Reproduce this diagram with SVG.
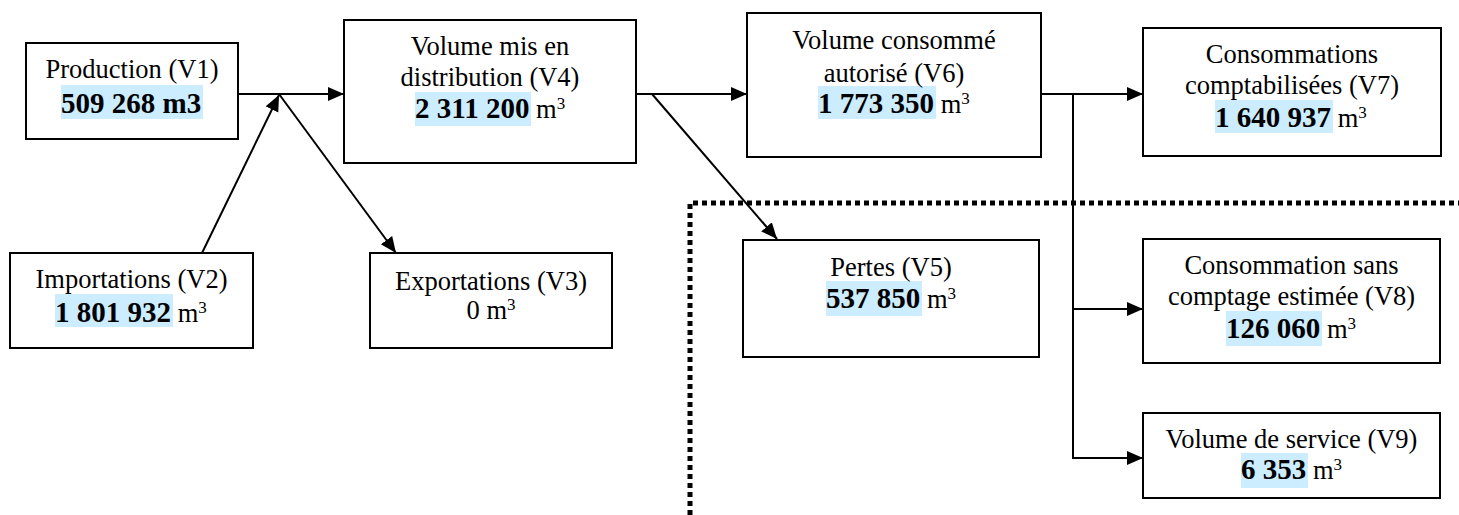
<svg xmlns="http://www.w3.org/2000/svg" width="1459" height="515" viewBox="0 0 1459 515">
<defs>
<style>
.box{fill:#fff;stroke:#000;stroke-width:2}
.hl{fill:#ccecff}
text{font-family:"Liberation Serif","Times New Roman",serif;font-size:26.5px;fill:#000}
.c{text-anchor:middle}
.b{font-weight:bold;font-size:29px}
.sup{font-size:17px}
.ln{stroke:#000;stroke-width:2;fill:none}
.arr{marker-end:url(#ah)}
</style>
<marker id="ah" markerUnits="userSpaceOnUse" markerWidth="18" markerHeight="16" refX="16" refY="7" orient="auto">
<path d="M0,0 L16,7 L0,14 z" fill="#000"/>
</marker>
</defs>
<rect width="1459" height="515" fill="#fff"/>

<g id="connectors">
<line class="ln arr" x1="238" y1="94" x2="344" y2="94"/>
<line class="ln arr" x1="202" y1="253" x2="279" y2="95"/>
<line class="ln arr" x1="279" y1="94" x2="396" y2="253"/>
<line class="ln arr" x1="636" y1="94" x2="747" y2="94"/>
<line class="ln arr" x1="652" y1="94" x2="777" y2="239"/>
<line class="ln arr" x1="1041" y1="94" x2="1143" y2="94"/>
<line class="ln" x1="1073" y1="94" x2="1073" y2="459"/>
<line class="ln arr" x1="1072" y1="309" x2="1143" y2="309"/>
<line class="ln arr" x1="1072" y1="458" x2="1143" y2="458"/>
</g>

<path id="boundary" d="M690,515 V203 H1459" fill="none" stroke="#000" stroke-width="5" stroke-dasharray="5,4"/>

<g id="v1">
<rect class="box" x="26" y="43" width="212" height="96"/>
<rect class="hl" x="61" y="85" width="142" height="34"/>
<text class="c" x="132" y="78">Production (V1)</text>
<text class="b" x="61" y="113">509 268 m3</text>
</g>

<g id="v2">
<rect class="box" x="10" y="253" width="243" height="95"/>
<rect class="hl" x="55" y="294" width="118" height="33"/>
<text class="c" x="131.5" y="288">Importations (V2)</text>
<text x="55" y="322"><tspan class="b">1 801 932</tspan> m<tspan class="sup" dy="-9">3</tspan></text>
</g>

<g id="v3">
<rect class="box" x="370" y="253" width="242" height="95"/>
<text class="c" x="491" y="290">Exportations (V3)</text>
<text class="c" x="491" y="319">0 m<tspan class="sup" dy="-9">3</tspan></text>
</g>

<g id="v4">
<rect class="box" x="344" y="20" width="292" height="143"/>
<rect class="hl" x="415" y="92" width="116" height="34"/>
<text class="c" x="490" y="55">Volume mis en</text>
<text class="c" x="490" y="86">distribution (V4)</text>
<text x="415" y="118"><tspan class="b">2 311 200</tspan> m<tspan class="sup" dy="-9">3</tspan></text>
</g>

<g id="v5">
<rect class="box" x="743" y="240" width="296" height="117"/>
<rect class="hl" x="826" y="281" width="96" height="35"/>
<text class="c" x="891" y="276">Pertes (V5)</text>
<text x="826" y="308"><tspan class="b">537 850</tspan> m<tspan class="sup" dy="-9">3</tspan></text>
</g>

<g id="v6">
<rect class="box" x="747" y="13" width="294" height="144"/>
<rect class="hl" x="818" y="86" width="118" height="33"/>
<text class="c" x="894" y="49">Volume consommé</text>
<text class="c" x="894" y="82">autorisé (V6)</text>
<text x="818" y="113"><tspan class="b">1 773 350</tspan> m<tspan class="sup" dy="-9">3</tspan></text>
</g>

<g id="v7">
<rect class="box" x="1143" y="28" width="298" height="128"/>
<rect class="hl" x="1215" y="100" width="118" height="33"/>
<text class="c" x="1292" y="63">Consommations</text>
<text class="c" x="1292" y="94">comptabilisées (V7)</text>
<text x="1215" y="127"><tspan class="b">1 640 937</tspan> m<tspan class="sup" dy="-9">3</tspan></text>
</g>

<g id="v8">
<rect class="box" x="1143" y="239" width="297" height="124"/>
<rect class="hl" x="1226" y="311" width="96" height="35"/>
<text class="c" x="1291.5" y="274">Consommation sans</text>
<text class="c" x="1291.5" y="305">comptage estimée (V8)</text>
<text x="1226" y="338"><tspan class="b">126 060</tspan> m<tspan class="sup" dy="-9">3</tspan></text>
</g>

<g id="v9">
<rect class="box" x="1143" y="413" width="297" height="85"/>
<rect class="hl" x="1241" y="453" width="67" height="35"/>
<text class="c" x="1291.5" y="448">Volume de service (V9)</text>
<text x="1241" y="479"><tspan class="b">6 353</tspan> m<tspan class="sup" dy="-9">3</tspan></text>
</g>
</svg>
